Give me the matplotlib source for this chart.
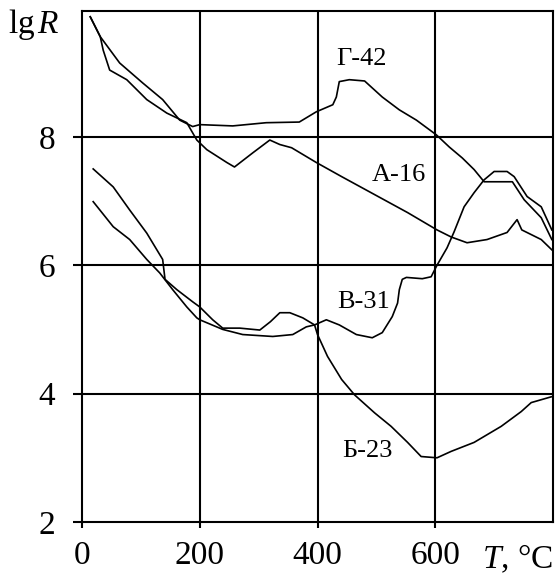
import matplotlib
matplotlib.use("Agg")
import matplotlib.pyplot as plt

plt.rcParams['font.family'] = ['Liberation Serif', 'DejaVu Serif']
plt.rcParams['mathtext.fontset'] = 'custom'
plt.rcParams['mathtext.rm'] = 'Liberation Serif'
plt.rcParams['mathtext.it'] = 'Liberation Serif:italic'

# кривые lg R(T)
t_a16 = [14, 31, 36, 47, 76, 110, 144, 178, 195, 212, 246, 259, 290, 319, 336, 356, 398, 441, 497, 553, 603, 627, 654, 688, 722, 739, 747, 780, 798]
r_a16 = [9.87, 9.56, 9.35, 9.04, 8.89, 8.58, 8.37, 8.22, 7.95, 7.8, 7.6, 7.53, 7.75, 7.95, 7.88, 7.83, 7.6, 7.38, 7.1, 6.82, 6.55, 6.44, 6.35, 6.4, 6.51, 6.71, 6.55, 6.4, 6.24]

t_g42 = [14, 31, 64, 103, 137, 166, 188, 200, 256, 313, 369, 398, 426, 432, 437, 454, 480, 510, 539, 568, 602, 624, 646, 666, 683, 731, 751, 780, 798]
r_g42 = [9.87, 9.56, 9.15, 8.84, 8.58, 8.26, 8.16, 8.19, 8.17, 8.22, 8.23, 8.39, 8.5, 8.62, 8.86, 8.89, 8.87, 8.62, 8.42, 8.26, 8.03, 7.84, 7.67, 7.49, 7.3, 7.3, 7.02, 6.74, 6.4]

t_v31 = [19, 53, 81, 110, 137, 141, 161, 188, 200, 222, 239, 268, 302, 320, 336, 353, 375, 395, 415, 437, 466, 493, 510, 527, 536, 539, 544, 551, 578, 593, 603, 620, 632, 649, 666, 683, 700, 722, 734, 756, 780, 798]
r_v31 = [7.5, 7.22, 6.86, 6.5, 6.09, 5.78, 5.62, 5.43, 5.35, 5.15, 5.02, 5.02, 4.99, 5.12, 5.26, 5.26, 5.18, 5.07, 5.15, 5.07, 4.92, 4.87, 4.95, 5.2, 5.41, 5.62, 5.78, 5.81, 5.79, 5.82, 6.0, 6.27, 6.52, 6.91, 7.13, 7.33, 7.46, 7.46, 7.38, 7.07, 6.91, 6.55]

t_b23 = [19, 53, 81, 110, 132, 154, 178, 195, 200, 239, 273, 324, 358, 381, 395, 400, 417, 441, 463, 497, 525, 553, 576, 603, 627, 666, 712, 746, 763, 797]
r_b23 = [6.99, 6.6, 6.4, 6.09, 5.88, 5.62, 5.35, 5.18, 5.15, 5.0, 4.92, 4.89, 4.92, 5.04, 5.07, 4.92, 4.58, 4.22, 3.98, 3.7, 3.49, 3.24, 3.02, 3.0, 3.1, 3.24, 3.49, 3.72, 3.86, 3.95]

names = ['Г-42', 'А-16', 'В-31', 'Б-23']
name_x = [475, 539, 478, 485]
name_y = [9.21, 7.41, 5.43, 3.1]

xt = [0, 200, 400, 600]
yt = [2, 4, 6, 8]

fig = plt.figure(figsize=(5.55, 5.76), dpi=100)
ax = fig.add_axes([82/555, 1-522/576, 471/555, 511/576])

for x in [200, 400, 600]:
    ax.axvline(x, color='black', lw=1.5)
for y in [4, 6, 8]:
    ax.axhline(y, color='black', lw=1.5)

for t, r in [(t_a16, r_a16), (t_g42, r_g42), (t_v31, r_v31), (t_b23, r_b23)]:
    ax.plot(t, r, color='black', lw=1.2)

for n, x, y in zip(names, name_x, name_y):
    ax.text(x, y, n, fontsize=19, ha='center', va='center')

ax.set_xlim(0, 800)
ax.set_ylim(2, 9.96)
ax.set_xticks(xt)
ax.set_yticks(yt)
ax.tick_params(axis='both', labelsize=24, width=1.5, color='black')
ax.tick_params(axis='y', length=6.5, pad=13)
ax.tick_params(axis='x', length=4.5, pad=9)
for s in ax.spines.values():
    s.set_linewidth(1.5)

fig.text(8/555, 1-33/576, r'$\mathrm{lg}\,R$', fontsize=24, ha='left', va='baseline')
fig.text(553/555, 1-568/576, r'$T$, °C', fontsize=24, ha='right', va='baseline')

fig.savefig('out.png', dpi=100)
